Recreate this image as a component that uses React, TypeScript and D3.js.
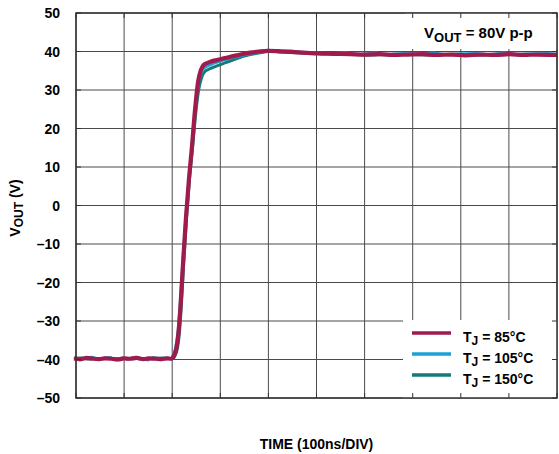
import React from "react";
import * as d3 from "d3";

// Output step response, time in ns (100 ns per division), voltage in V
const time85 = [-4, 10, 22, 35, 48, 60, 74, 88, 100, 113, 126, 140, 152, 165, 178, 190, 198.5, 203.7, 208.9, 213.1, 217.3, 222.5, 228.7, 234.9, 240.5, 247.4, 253.6, 259.9, 266.1, 278.6, 293.1, 310, 326.4, 344, 361.7, 380, 399.2, 420, 444.9, 470, 501, 535, 569.6, 600, 630, 660, 690, 720, 750, 780, 810, 840, 870, 900, 930, 960, 1000];
const volts85 = [-39.7, -39.9, -39.6, -39.8, -39.9, -39.7, -39.8, -40.0, -39.7, -39.8, -39.6, -39.9, -39.7, -39.8, -39.9, -39.7, -39.8, -39.0, -37.0, -33.0, -26.0, -15.0, -3.0, 7.0, 14.5, 24.8, 32.0, 35.3, 36.6, 37.3, 37.8, 38.3, 38.8, 39.3, 39.7, 40.0, 40.2, 40.1, 39.9, 39.7, 39.5, 39.4, 39.3, 39.2, 39.3, 39.1, 39.2, 39.3, 39.1, 39.2, 39.0, 39.2, 39.1, 39.3, 39.1, 39.2, 39.1];

const time105 = [-4, 8, 20, 33, 45, 58, 70, 84, 97, 110, 123, 136, 149, 162, 175, 188, 197, 202, 207, 212, 216.5, 222, 228.5, 235, 241, 248, 254, 260, 267, 280, 295, 310, 326, 343, 360, 380, 400, 422, 445, 470, 500, 530, 560, 590, 620, 650, 680, 710, 740, 770, 800, 830, 860, 890, 920, 950, 980, 1000];
const volts105 = [-39.5, -40.1, -39.6, -39.4, -40.0, -39.7, -39.5, -40.1, -39.6, -39.9, -39.4, -39.8, -40.1, -39.5, -39.8, -39.6, -39.8, -39.0, -37.0, -33.0, -26.0, -15.0, -3.0, 7.0, 14.5, 24.5, 31.5, 34.5, 35.8, 36.6, 37.3, 37.9, 38.4, 38.9, 39.4, 39.8, 40.3, 40.0, 40.1, 39.8, 39.6, 39.5, 39.6, 39.3, 39.6, 39.2, 39.5, 39.3, 39.6, 39.2, 39.4, 39.5, 39.2, 39.6, 39.3, 39.4, 39.5, 39.3];

const time150 = [-4, 12, 25, 38, 52, 66, 80, 94, 108, 122, 136, 150, 164, 178, 190, 200, 206, 211, 215, 219, 224, 230, 236, 242, 249, 255, 261, 268, 280, 296, 311, 326, 350, 380, 400, 423, 445, 475, 505, 540, 580, 620, 660, 700, 740, 780, 820, 860, 900, 940, 980, 1000];
const volts150 = [-39.8, -39.6, -39.9, -39.7, -39.8, -39.6, -39.9, -39.7, -39.8, -39.6, -39.9, -39.7, -39.8, -39.6, -39.8, -39.8, -39.0, -37.0, -33.0, -26.0, -15.0, -3.0, 7.0, 14.5, 24.0, 30.0, 33.2, 34.8, 35.6, 36.4, 37.1, 37.8, 38.8, 39.6, 40.0, 39.9, 39.8, 39.6, 39.5, 39.3, 39.2, 39.1, 39.3, 39.2, 39.1, 39.3, 39.2, 39.1, 39.2, 39.3, 39.1, 39.2];

const seriesLabels = ["85°C", "105°C", "150°C"];
const seriesColors = ["#A01B4C", "#1BA2D4", "#147B79"];

const yTicks = [50, 40, 30, 20, 10, 0, -10, -20, -30, -40, -50];
const xGrid = [0, 100, 200, 300, 400, 500, 600, 700, 800, 900, 1000];

const W = 559;
const H = 454;
const FONT = "'Liberation Sans', Arial, sans-serif";

export default function App() {
  const x = d3.scaleLinear().domain([0, 1000]).range([76, 557]);
  const y = d3.scaleLinear().domain([-50, 50]).range([398, 13]);

  const line = d3
    .line<[number, number]>()
    .x((d) => x(d[0]))
    .y((d) => y(d[1]))
    .curve(d3.curveMonotoneX);

  const zip = (t: number[], v: number[]) => t.map((tt, i) => [tt, v[i]] as [number, number]);
  const traces = [
    { d: zip(time150, volts150), color: seriesColors[2], w: 3 },
    { d: zip(time105, volts105), color: seriesColors[1], w: 3 },
    { d: zip(time85, volts85), color: seriesColors[0], w: 4.2 },
  ];

  const [x0, x1] = x.range();
  const [yb, yt] = y.range();
  const tickLen = 5;
  const fmt = (v: number) => (v < 0 ? "\u2013" + Math.abs(v) : String(v));

  return (
    <svg
      width={W}
      height={H}
      style={{ position: "absolute", left: 0, top: 0, background: "#fff" }}
      fontFamily={FONT}
    >
      {/* grid */}
      <g stroke="#4a4a4a" strokeWidth={1}>
        {xGrid.map((t) => (
          <line key={"gx" + t} x1={x(t)} x2={x(t)} y1={yt} y2={yb} />
        ))}
        {yTicks.map((v) => (
          <line key={"gy" + v} x1={x0} x2={x1} y1={y(v)} y2={y(v)} />
        ))}
      </g>

      {/* traces */}
      {traces.map((s, i) => (
        <path
          key={i}
          d={line(s.d) || ""}
          fill="none"
          stroke={s.color}
          strokeWidth={s.w}
          strokeLinejoin="round"
        />
      ))}

      {/* annotation box */}
      <rect x={405} y={yt} width={x1 - 405} height={36} fill="#fff" />
      <text x={424} y={38} fontSize={15} fontWeight="bold" fill="#000">
        V<tspan dy={4} fontSize={13}>OUT</tspan>
        <tspan dy={-4}> = 80V p-p</tspan>
      </text>

      {/* legend box */}
      <rect x={403} y={320} width={x1 - 403} height={yb - 320} fill="#fff" />
      {seriesLabels.map((lab, i) => {
        const ly = 333 + i * 21;
        return (
          <g key={lab}>
            <line x1={412} x2={451} y1={ly} y2={ly} stroke={seriesColors[i]} strokeWidth={3.5} />
            <text x={463} y={ly + 9} fontSize={14} fontWeight="bold" fill="#000">
              T<tspan dy={3} fontSize={12}>J</tspan>
              <tspan dy={-3}>{" = " + lab}</tspan>
            </text>
          </g>
        );
      })}

      {/* frame ticks */}
      <g stroke="#333" strokeWidth={1}>
        {xGrid.map((t) => (
          <g key={"tx" + t}>
            <line x1={x(t)} x2={x(t)} y1={yt} y2={yt + tickLen} />
            <line x1={x(t)} x2={x(t)} y1={yb} y2={yb - tickLen} />
          </g>
        ))}
        {yTicks.map((v) => (
          <g key={"ty" + v}>
            <line x1={x0} x2={x0 + tickLen} y1={y(v)} y2={y(v)} />
            <line x1={x1} x2={x1 - tickLen} y1={y(v)} y2={y(v)} />
          </g>
        ))}
      </g>
      <rect x={x0} y={yt} width={x1 - x0} height={yb - yt} fill="none" stroke="#333" strokeWidth={1.5} />

      {/* y tick labels */}
      {yTicks.map((v) => (
        <text
          key={"yl" + v}
          x={60}
          y={y(v)}
          dy="0.36em"
          textAnchor="end"
          fontSize={14}
          fontWeight="bold"
          fill="#000"
        >
          {fmt(v)}
        </text>
      ))}

      {/* axis titles */}
      <text
        transform={`translate(20, 208) rotate(-90)`}
        textAnchor="middle"
        fontSize={14}
        fontWeight="bold"
        fill="#000"
      >
        V<tspan dy={3} fontSize={12}>OUT</tspan>
        <tspan dy={-3}> (V)</tspan>
      </text>
      <text x={(x0 + x1) / 2} y={449} textAnchor="middle" fontSize={14} fontWeight="bold" fill="#000">
        TIME (100ns/DIV)
      </text>
    </svg>
  );
}
